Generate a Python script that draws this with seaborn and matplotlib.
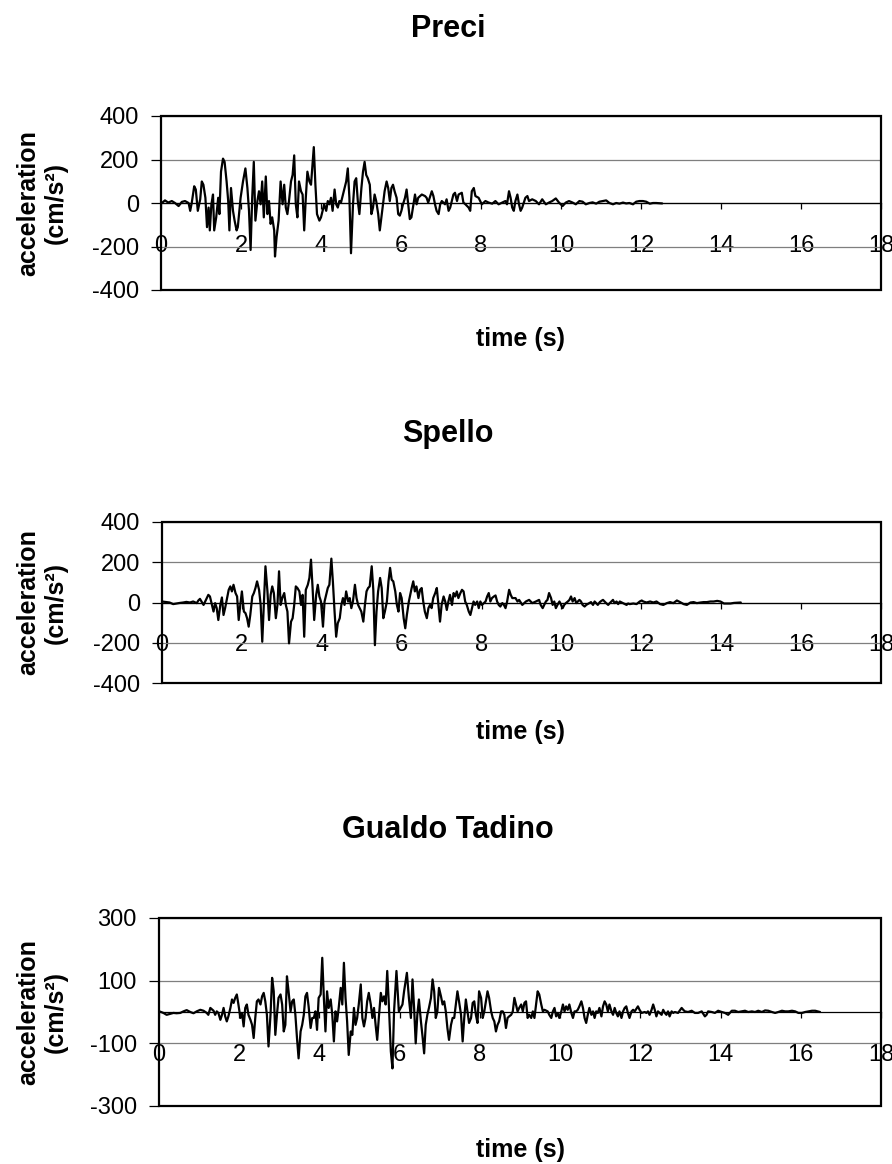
import pandas as pd
import seaborn as sns
import matplotlib.pyplot as plt
from matplotlib.patches import Rectangle

# ================= data =================
stations = ["Preci", "Spello", "Gualdo Tadino"]

preci_time = [
    0.02, 0.10, 0.18, 0.27, 0.35, 0.44, 0.52, 0.60, 0.69,
    0.73, 0.77, 0.83, 0.87, 0.92, 0.98, 1.02, 1.06, 1.11, 1.15,
    1.19, 1.22, 1.26, 1.30, 1.33, 1.38, 1.43, 1.46, 1.50, 1.55,
    1.59, 1.64, 1.68, 1.71, 1.75, 1.80, 1.84, 1.89, 1.92, 1.95,
    1.99, 2.05, 2.11, 2.16, 2.20, 2.24, 2.28, 2.32, 2.36, 2.41,
    2.45, 2.49, 2.53, 2.57, 2.62, 2.66, 2.70, 2.74, 2.78,
    2.83, 2.85, 2.89, 2.94,
    2.99, 3.04, 3.08, 3.12, 3.16, 3.20, 3.25, 3.29, 3.33, 3.37,
    3.41, 3.45, 3.50, 3.54, 3.58, 3.62, 3.66, 3.71, 3.75,
    3.82, 3.86, 3.90,
    3.96, 4.00, 4.04, 4.08, 4.13, 4.17, 4.21, 4.25, 4.29, 4.34,
    4.38, 4.42, 4.46, 4.50, 4.55, 4.59, 4.63, 4.67, 4.71, 4.75,
    4.80, 4.84, 4.88, 4.92, 4.96, 5.01, 5.05, 5.09, 5.13, 5.17,
    5.22, 5.26, 5.30, 5.34, 5.38, 5.43, 5.47, 5.51, 5.55, 5.59,
    5.64, 5.68, 5.72, 5.76, 5.80, 5.84, 5.89, 5.93, 5.97, 6.01,
    6.05, 6.10, 6.14,
    6.22, 6.26, 6.31, 6.35, 6.39, 6.43, 6.52, 6.60, 6.64, 6.68,
    6.77, 6.81, 6.85, 6.89, 6.94, 6.98, 7.02, 7.06, 7.10, 7.14,
    7.19, 7.23, 7.27, 7.31, 7.35, 7.40, 7.44, 7.52, 7.56, 7.61,
    7.69, 7.73, 7.77, 7.82, 7.86, 7.94, 7.98, 8.02,
    8.11, 8.19, 8.28, 8.36, 8.44, 8.53, 8.61,
    8.65, 8.70, 8.74, 8.78, 8.82, 8.86, 8.91, 8.95, 8.99, 9.03,
    9.11, 9.16, 9.20,
    9.28, 9.37, 9.45, 9.53, 9.62, 9.70, 9.78, 9.87, 9.95, 10.04,
    10.12, 10.20, 10.29, 10.37, 10.46, 10.54, 10.62, 10.71, 10.79, 10.88,
    10.96, 11.04, 11.13, 11.21, 11.30, 11.38, 11.46, 11.55, 11.63, 11.71,
    11.80, 11.88, 11.96, 12.05, 12.13, 12.22, 12.30, 12.38, 12.53,
]
preci_acc = [
    0, 12, 2, 9, 0, -14, 5, 9, 0,
    -36, 2, 77, 62, -36, 17, 99, 84, 24, -111,
    -21, -126, -6, 39, -126, -66, 24, -51, 144, 204,
    189, 99, 9, -126, 69, -36, -81, -126, -111, -51,
    24, 99, 159, 69, -36, -216, 24, 189, -81, 9,
    54, -6, 99, -66, 122, -51, 9, -96, -66,
    -126, -246, -156, -81,
    99, -6, 84, -21, -51, 9, 99, 129, 219, -6,
    -66, 99, 54, 39, -126, 24, 144, 99, 84,
    257, 84, -51,
    -81, -66, -36, -6, -36, 9, -6, 24, -36, 62,
    -6, -21, 9, 2, 39, 69, 99, 159, 24, -231,
    -6, 99, 114, 9, -51, 69, 144, 189, 129, 114,
    84, -51, -21, 39, 9, -51, -126, -66, -6, 54,
    99, 69, 9, 69, 84, 54, 24, -51, -58, -36,
    -6, 24, 62,
    -74, -66, -6, 39, -6, 24, 39, 32, 24, 2,
    54, 32, -6, -36, -51, -6, 9, 2, -6, 17,
    -36, -21, 9, 39, 47, 9, 39, 47, 2, -6,
    -21, -36, 54, 69, 32, 24, 9, -6,
    9, 2, -3, 9, -6, 2, 9,
    -6, 54, 24, -21, -36, 9, 39, -6, -36, -21,
    24, 32, 9,
    17, 9, -6, 17, -6, 2, 9, 21, 2, -14,
    2, 9, 2, -6, 9, 6, -6, 0, 3, -3,
    6, 9, 12, 0, -6, 0, -3, 2, -2, 0,
    -6, 6, 9, 9, 6, -3, 0, 0, -2,
]

spello_time = [
    0.00, 0.11, 0.19, 0.28, 0.36, 0.45, 0.53, 0.61, 0.70, 0.78, 0.87,
    0.91, 0.95, 0.99, 1.04, 1.08, 1.12, 1.16, 1.20, 1.25, 1.29,
    1.33, 1.37, 1.41, 1.46, 1.50, 1.54, 1.58, 1.63, 1.67, 1.71,
    1.75, 1.79, 1.84, 1.88, 1.92, 1.96, 2.00, 2.05, 2.09, 2.13,
    2.17, 2.21, 2.26, 2.30, 2.34, 2.38, 2.43, 2.47, 2.51, 2.55,
    2.59, 2.64, 2.68, 2.72, 2.76, 2.80, 2.85, 2.89, 2.93, 2.97,
    3.01, 3.06, 3.10, 3.14, 3.18, 3.23, 3.27, 3.31, 3.35, 3.39,
    3.44, 3.48, 3.52, 3.56, 3.60, 3.65, 3.69, 3.73, 3.77, 3.81,
    3.86, 3.90, 3.94, 3.98, 4.03, 4.07, 4.11, 4.15, 4.19, 4.24,
    4.28, 4.32, 4.36, 4.40, 4.45, 4.49, 4.53, 4.57, 4.61, 4.66,
    4.70, 4.74, 4.78, 4.83, 4.87, 4.91, 4.95, 4.99, 5.04, 5.08,
    5.12, 5.16, 5.20, 5.25, 5.29, 5.33, 5.37, 5.41, 5.46, 5.50,
    5.54, 5.58, 5.63, 5.67, 5.71, 5.75, 5.79, 5.84, 5.88, 5.92,
    5.96, 6.00, 6.05, 6.09, 6.13,
    6.18, 6.25, 6.29, 6.33, 6.37, 6.42, 6.46, 6.50, 6.54, 6.58,
    6.63, 6.67, 6.71, 6.75, 6.79, 6.84, 6.88, 6.92, 6.96, 7.00,
    7.05, 7.09, 7.13, 7.17, 7.21, 7.26, 7.30, 7.34, 7.38, 7.42,
    7.47, 7.51, 7.55, 7.59, 7.63, 7.68, 7.72, 7.76, 7.80, 7.84,
    7.89, 7.93, 7.97, 8.01,
    8.10, 8.14, 8.18, 8.22, 8.26, 8.31, 8.35, 8.39, 8.43, 8.47,
    8.52, 8.56, 8.60, 8.64, 8.69, 8.73, 8.77,
    8.85, 8.90, 8.94,
    9.02, 9.11, 9.19, 9.27, 9.36, 9.44,
    9.48, 9.53, 9.57, 9.61, 9.65, 9.69, 9.74, 9.78, 9.82, 9.86,
    9.90, 9.95, 9.99, 10.03, 10.07, 10.11, 10.16, 10.20, 10.24, 10.28,
    10.33, 10.37, 10.41, 10.45, 10.49, 10.53, 10.58, 10.62,
    10.70, 10.74, 10.79, 10.83, 10.87, 10.91, 10.96, 11.00, 11.04, 11.08,
    11.12, 11.17, 11.21,
    11.29, 11.33, 11.38, 11.42, 11.46,
    11.54, 11.63, 11.67, 11.71,
    11.80, 11.88, 11.96, 12.01, 12.05,
    12.13, 12.22, 12.30, 12.38, 12.47, 12.55, 12.64, 12.72, 12.80, 12.89,
    12.97, 13.06, 13.14, 13.23, 13.31, 13.39, 13.48, 13.56, 13.64, 13.73,
    13.81, 13.90, 13.98, 14.07, 14.15, 14.23, 14.32,
    14.49,
]
spello_acc = [
    5, 2, 0, -8, -5, -2, 0, 3, 0, 5, -3,
    10, 18, 5, -12, 5, 22, 38, 30, -12, -45,
    -3, -28, -87, -12, 25, -62, -28, 22, 63, 80,
    55, 88, 47, 30, -87, -12, 55, -45, -53, -78,
    -120, -62, 30, 47, 72, 105, 63, -12, -195, -12,
    180, 55, -87, 38, 80, 47, -78, -12, 155, -12,
    22, 47, -12, -45, -203, -95, -78, -12, 80, 72,
    55, -12, 38, -170, 63, 88, 122, 213, 72, -87,
    38, 88, 30, 5, -120, 5, 38, 72, 88, 218,
    97, -45, -170, -103, -78, -12, 22, -12, 55, 5,
    22, -28, 5, 88, 22, -12, -28, -45, -95, -12,
    55, 72, 80, 180, 63, -212, -45, 55, 122, 72,
    -78, -45, 5, 105, 172, 113, 105, 55, -12, -45,
    47, 22, -78, -128, -62,
    5, 72, 105, 55, 80, 22, 63, 72, 5, -45,
    -78, -28, -12, -28, 22, 47, 72, -12, -95, -12,
    30, 5, -37, 5, 38, -12, 47, 30, 55, 22,
    47, 63, 55, 5, -12, -45, -62, -28, 5, -12,
    5, -28, 5, -12,
    5, 30, 47, 5, 22, 30, 35, 5, -12, -20,
    -3, -12, -28, 5, 63, 38, 22,
    22, 5, 13,
    -12, 5, 13, -3, 5, 13,
    -12, -28, -12, 5, 13, 47, 22, -12, 5, -28,
    -12, 5, -12, -28, -12, -3, 5, 13, 30, 5,
    22, -3, 5, 13, 5, -12, -20, -12,
    -3, 2, -12, 5, -3, -12, 2, 8, 13, 5,
    -3, -12, -3,
    13, -3, 5, -8, 5,
    -3, -12, -5, -8,
    -5, -8, 5, 10, 5,
    0, 5, 0, 5, -8, -12, -3, 2, -3, 10,
    2, -8, -12, 0, 2, -3, 0, 2, 2, 5,
    5, 8, 5, -5, -5, -5, -2,
    0,
]

gualdo_time = [
    0.01, 0.11, 0.19, 0.28, 0.36, 0.44, 0.53, 0.61, 0.69, 0.78,
    0.86, 0.94, 1.03, 1.11, 1.19,
    1.23, 1.28,
    1.36, 1.40, 1.44, 1.48, 1.53, 1.57, 1.61, 1.65, 1.69, 1.73,
    1.78, 1.82, 1.86, 1.90, 1.94, 1.98, 2.03, 2.07, 2.11, 2.15,
    2.19, 2.23, 2.28, 2.32, 2.36, 2.40, 2.44, 2.48, 2.53, 2.57,
    2.61, 2.65, 2.69, 2.73, 2.78, 2.82, 2.86, 2.90, 2.94, 2.98,
    3.03, 3.07, 3.11, 3.15, 3.19, 3.23, 3.28, 3.32, 3.36, 3.40,
    3.44, 3.48, 3.53, 3.57, 3.61, 3.65, 3.69, 3.73, 3.78, 3.82,
    3.86, 3.90, 3.94, 3.98, 4.03, 4.07, 4.11, 4.15, 4.19, 4.23,
    4.28, 4.32, 4.36, 4.40, 4.44, 4.48, 4.53, 4.57, 4.61, 4.65,
    4.69, 4.73, 4.78, 4.82, 4.86, 4.90, 4.94, 4.98, 5.03, 5.07,
    5.11, 5.15, 5.19, 5.23, 5.28, 5.32, 5.36, 5.40, 5.44, 5.48,
    5.53, 5.57, 5.61, 5.65, 5.69, 5.73, 5.78, 5.82,
    5.86, 5.92, 5.98, 6.07, 6.11, 6.18, 6.23,
    6.28, 6.32, 6.36, 6.40, 6.44, 6.48, 6.53, 6.57, 6.61, 6.65,
    6.69, 6.73, 6.78, 6.82, 6.86, 6.90, 6.94, 6.98, 7.03, 7.07,
    7.11, 7.15, 7.19, 7.23, 7.28, 7.32, 7.36, 7.40, 7.44, 7.48,
    7.53, 7.57, 7.61, 7.65, 7.69, 7.73, 7.78, 7.82, 7.86, 7.90,
    7.94, 7.98, 8.03, 8.07, 8.11, 8.15, 8.19, 8.23, 8.28, 8.32,
    8.36, 8.40, 8.44, 8.48, 8.53, 8.57, 8.61, 8.65, 8.69, 8.73,
    8.78, 8.82, 8.86, 8.90, 8.94, 8.98, 9.03, 9.07, 9.11, 9.15,
    9.19, 9.23, 9.28, 9.32, 9.36, 9.40, 9.44, 9.48, 9.53, 9.57,
    9.61,
    9.69, 9.73, 9.78, 9.82, 9.86, 9.90, 9.94, 9.98, 10.03, 10.07,
    10.11, 10.15, 10.19, 10.23, 10.28, 10.32, 10.36, 10.40, 10.44, 10.48,
    10.53, 10.57, 10.61, 10.65, 10.69, 10.73, 10.78, 10.82, 10.86, 10.90,
    10.94, 10.98, 11.03, 11.07, 11.11, 11.15, 11.19, 11.23, 11.28, 11.32,
    11.36, 11.40, 11.44, 11.48, 11.53, 11.57, 11.61, 11.65, 11.69, 11.73,
    11.78, 11.82, 11.86,
    11.94, 11.98, 12.03,
    12.11, 12.15, 12.19, 12.23, 12.28, 12.32, 12.36, 12.40, 12.44, 12.48,
    12.53, 12.57, 12.61, 12.65, 12.69, 12.73, 12.78, 12.82, 12.86,
    12.94, 13.03, 13.07, 13.11,
    13.19, 13.28, 13.36, 13.44, 13.53, 13.61, 13.65,
    13.69, 13.78, 13.86, 13.94, 14.03, 14.11, 14.19, 14.28, 14.36, 14.44,
    14.53, 14.61, 14.69, 14.78, 14.86, 14.94, 15.03, 15.11, 15.19, 15.28,
    15.36, 15.44, 15.53, 15.61, 15.69, 15.78, 15.86, 15.94, 16.03, 16.11,
    16.19, 16.28, 16.36,
    16.48,
]
gualdo_acc = [
    2, -3, -9, -6, -3, -4, -3, 2, 6, 0,
    -4, 2, 7, 4, -3,
    -9, 13,
    4, -9, 2, -3, -25, -9, 13, -14, -30, -14,
    13, 40, 29, 45, 56, 24, -19, -3, -46, 13,
    24, -9, -25, -41, -83, -19, 34, 40, 24, 50,
    61, 34, -9, -110, -9, 109, 66, -73, -9, 45,
    56, 24, -62, -41, 114, 66, 2, 34, 40, -9,
    -83, -148, -62, -41, -9, 50, 61, 18, -51, -19,
    -19, 2, -57, 45, 56, 173, 45, -62, 66, 13,
    40, -9, -94, 2, -30, 13, 77, 24, 157, 45,
    -30, -137, -62, -73, 13, -41, -19, 24, 88, -19,
    -46, -19, 34, 61, 24, -19, 13, -41, -89, -19,
    61, 34, 50, 24, 131, 24, -126, -180,
    2, 131, 2, 24, 66, 125, 45,
    -19, 104, 13, -100, -9, 40, -30, -78, -132, -41,
    -9, 13, 45, 104, 66, -19, 2, 77, 50, 24,
    34, 2, -51, -89, -41, -19, -19, 24, 66, 34,
    -9, -94, -19, 40, 2, -35, -19, 29, 34, -9,
    -35, 66, 45, -19, 2, 34, 66, 45, 2, -19,
    -30, -62, -41, -30, 2, 2, -9, -51, -19, -14,
    -9, 2, 45, 24, 2, 13, 24, 2, 29, 34,
    -19, -9, -19, 2, -19, 24, 66, 56, 24, 2,
    7,
    2, -9, -19, 2, 13, -14, -3, -19, 2, 24,
    2, 18, 7, 24, -3, -19, 2, 2, 7, 18,
    34, 13, -19, -35, -9, 13, -9, 2, -19, 2,
    -3, 13, -14, 18, 34, 24, 2, 24, 2, -9,
    13, -3, -14, 2, -19, 2, 13, 18, -3, -19,
    2, 7, 2,
    18, 7, -3,
    0, -3, 2, -9, 7, 24, 7, -14, 2, -3,
    -9, 7, -3, -9, 2, -14, 2, -3, 0,
    -3, 13, 7, 2,
    0, 4, -3, -3, 2, -14, -9,
    2, 0, -3, 4, 0, -3, -9, 4, 4, 0,
    2, 4, 0, 2, 0, 4, 0, 5, 4, 0,
    -3, 0, 4, 2, 2, 4, 2, -3, -3, 0,
    2, 4, 4,
    0,
]

x_ticks = [0, 2, 4, 6, 8, 10, 12, 14, 16, 18]
preci_yticks = [-400, -200, 0, 200, 400]
spello_yticks = [-400, -200, 0, 200, 400]
gualdo_yticks = [-300, -100, 100, 300]

# ================= style =================
sns.set_theme(style="white")
plt.rcParams["font.family"] = ["Liberation Sans", "DejaVu Sans"]
plt.rcParams["text.color"] = "black"
plt.rcParams["xtick.color"] = "black"
plt.rcParams["ytick.color"] = "black"
plt.rcParams["axes.unicode_minus"] = False

W, H = 892, 1164
fig = plt.figure(figsize=(W / 100, H / 100), dpi=100)

# plot box in pixels (left, top, right, bottom), title baseline y, x-label centre y
panels = [
    (preci_time, preci_acc, preci_yticks, (161, 116, 881, 290), 37, 339),
    (spello_time, spello_acc, spello_yticks, (162, 522, 881, 683), 442, 732),
    (gualdo_time, gualdo_acc, gualdo_yticks, (159, 918, 881, 1106), 838, 1150),
]

for name, (t, a, yt, box, title_y, xlab_y) in zip(stations, panels):
    assert len(t) == len(a), (name, len(t), len(a))
    l, top, r, b = box
    ax = fig.add_axes([l / W, 1 - b / H, (r - l) / W, (b - top) / H])
    df = pd.DataFrame({"time": t, "acc": a})
    sns.lineplot(data=df, x="time", y="acc", ax=ax, color="black",
                 linewidth=1.6, estimator=None, sort=False)

    ax.set_xlim(0, 18)
    ax.set_ylim(yt[0], yt[-1])
    ax.set_xticks(x_ticks)
    ax.set_yticks(yt)
    ax.set_xlabel("")
    ax.set_ylabel("")
    ax.grid(axis="y", color="#7f7f7f", linewidth=0.9)
    ax.grid(axis="x", visible=False)

    # x axis crosses at zero, frame drawn separately
    for s in ["top", "right", "left"]:
        ax.spines[s].set_visible(False)
    ax.spines["bottom"].set_position(("data", 0))
    ax.spines["bottom"].set_color("black")
    ax.spines["bottom"].set_linewidth(0.9)
    ax.add_patch(Rectangle((0, 0), 1, 1, transform=ax.transAxes, fill=False,
                           edgecolor="black", linewidth=1.6, clip_on=False, zorder=5))

    ax.tick_params(axis="x", bottom=True, direction="out", length=4, width=0.9,
                   pad=19, labelsize=17)
    ax.tick_params(axis="y", left=True, direction="out", length=7, width=0.9,
                   pad=9, labelsize=17)

    # chart title is centred on the whole chart area, axis titles on the plot area
    fig.text(448 / W, 1 - title_y / H, name, ha="center", va="baseline",
             fontsize=22, fontweight="bold")
    fig.text(42 / W, 1 - ((top + b) / 2) / H, "acceleration\n(cm/s²)",
             rotation=90, ha="center", va="center", multialignment="center",
             fontsize=18, fontweight="bold")
    fig.text(521 / W, 1 - xlab_y / H, "time (s)", ha="center", va="center",
             fontsize=18, fontweight="bold")

fig.savefig("out.png", dpi=100)
